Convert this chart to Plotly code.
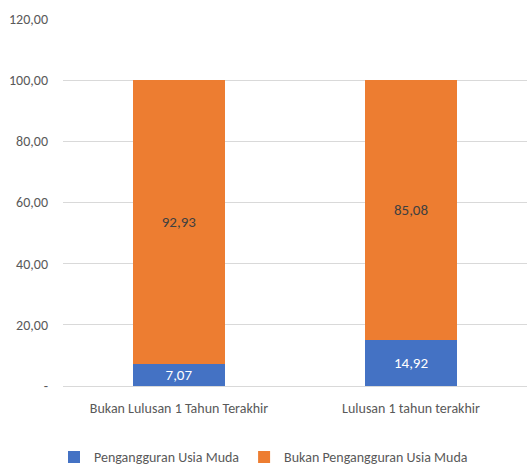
import plotly.graph_objects as go

categories = ["Bukan Lulusan 1 Tahun Terakhir", "Lulusan 1 tahun terakhir"]
pengangguran = [7.07, 14.92]
bukan_pengangguran = [92.93, 85.08]
tick_vals = [0, 20, 40, 60, 80, 100, 120]
tick_text = ["-", "20,00", "40,00", "60,00", "80,00", "100,00", "120,00"]

def fmt(v):
    return f"{v:.2f}".replace(".", ",")

FONT = "Calibri, Carlito, Lato, sans-serif"

fig = go.Figure()
fig.add_trace(go.Bar(
    x=categories, y=pengangguran, name="Pengangguran Usia Muda",
    marker=dict(color="#4472C4", line=dict(width=0)),
    text=[fmt(v) for v in pengangguran], textposition="inside",
    insidetextanchor="middle", textangle=0, constraintext="none",
    textfont=dict(color="white", size=15, family=FONT),
))
fig.add_trace(go.Bar(
    x=categories, y=bukan_pengangguran, name="Bukan Pengangguran Usia Muda",
    marker=dict(color="#ED7D31", line=dict(width=0)),
    text=[fmt(v) for v in bukan_pengangguran], textposition="inside",
    insidetextanchor="middle", textangle=0, constraintext="none",
    textfont=dict(color="#404040", size=15, family=FONT),
))

fig.update_layout(
    barmode="stack", bargap=0.6,
    width=527, height=469,
    margin=dict(l=63, r=0, t=19, b=83),
    paper_bgcolor="white", plot_bgcolor="white",
    font=dict(family=FONT, size=14, color="#595959"),
    legend=dict(orientation="h", xref="container", yref="container",
                x=0.5, xanchor="center", y=0.025, yanchor="middle",
                font=dict(size=14, color="#595959"),
                itemwidth=30, traceorder="normal"),
    showlegend=True,
)
fig.update_yaxes(range=[0, 120], tickvals=tick_vals, ticktext=tick_text,
                 showgrid=True, gridcolor="#d9d9d9", gridwidth=1,
                 zeroline=True, zerolinecolor="#d9d9d9", zerolinewidth=1,
                 showline=False, ticks="", ticklabelstandoff=14,
                 tickfont=dict(size=14, color="#595959"))
fig.update_xaxes(showgrid=False, showline=False, ticks="",
                 ticklabelstandoff=12,
                 tickfont=dict(size=14, color="#595959"))

fig.write_html("out.html")
